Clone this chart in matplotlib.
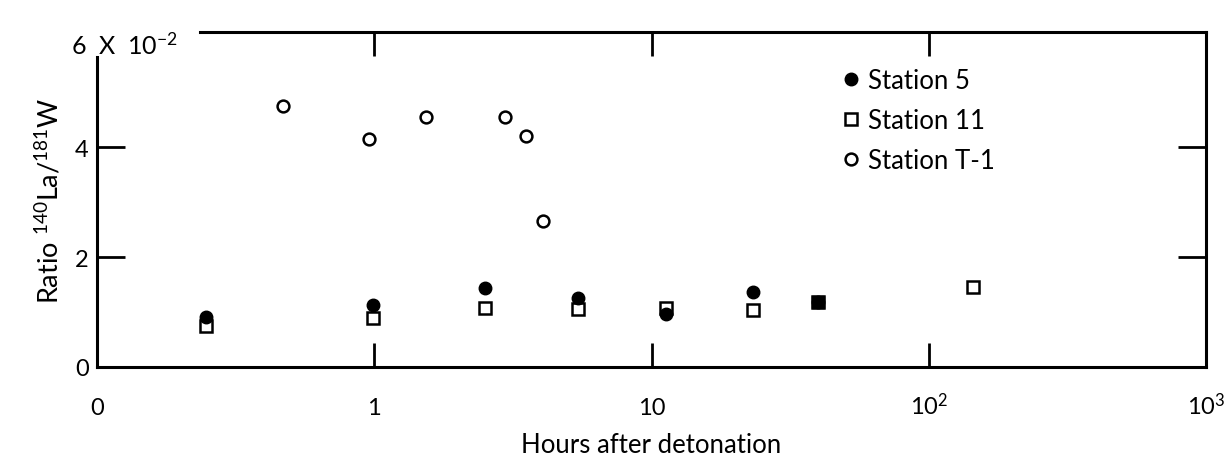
import numpy as np
import matplotlib
matplotlib.use('Agg')
import matplotlib.pyplot as plt

plt.rcParams['font.family'] = ['Lato', 'DejaVu Sans']
plt.rcParams['mathtext.fontset'] = 'custom'
plt.rcParams['mathtext.rm'] = 'Lato'
plt.rcParams['mathtext.it'] = 'Lato'

# Station 5 (filled circles)
t_st5 = [0.248, 0.99, 2.5, 5.45, 11.3, 23.3, 39.7]
r_st5 = [0.91, 1.13, 1.44, 1.25, 0.96, 1.36, 1.18]

# Station 11 (open squares)
t_st11 = [0.248, 0.99, 2.5, 5.45, 11.3, 23.3, 39.7, 144]
r_st11 = [0.75, 0.89, 1.07, 1.05, 1.07, 1.04, 1.18, 1.45]

# Station T-1 (open circles)
t_t1 = [0.47, 0.96, 1.54, 2.97, 3.54, 4.07]
r_t1 = [4.75, 4.15, 4.56, 4.56, 4.20, 2.65]

xticks = [0.1, 1, 10, 100, 1000]
xticklabels = ['0', '1', '10', '$10^2$', '$10^3$']
yticks = [0, 2, 4]
yticklabels = ['0', '2', '4']

fig = plt.figure(figsize=(12.24, 4.56), dpi=100)
ax = fig.add_axes([97/1224, 1 - 368/456, (1206-97)/1224, (368-33)/456])

ax.plot(t_st5, r_st5, 'o', color='black', ms=9, label='Station 5', zorder=3)
ax.plot(t_st11, r_st11, 's', mfc='white', mec='black', mew=1.8, ms=8, label='Station 11', zorder=2)
ax.plot(t_t1, r_t1, 'o', mfc='white', mec='black', mew=1.8, ms=8.5, label='Station T-1', zorder=3)

# the point at ~40 h is shared by Station 5 and 11 and appears as a filled square
ax.plot(t_st11[6], r_st11[6], 's', color='black', ms=8, zorder=4)

ax.set_xscale('log')
ax.set_xlim(0.1, 1000)
ax.set_ylim(0, 6.1)
ax.set_xticks(xticks)
ax.set_xticklabels(xticklabels)
ax.xaxis.set_minor_locator(matplotlib.ticker.NullLocator())
ax.set_yticks(yticks)
ax.set_yticklabels(yticklabels)

ax.tick_params(axis='x', which='major', direction='in', length=17, width=2,
               top=True, labelsize=17, pad=34)
ax.tick_params(axis='y', which='major', direction='in', length=20, width=2,
               right=True, labelsize=17, pad=6)
for lab in ax.get_xticklabels():
    lab.set_va('baseline')
# no tick marks at the "0" end of the x axis
ax.xaxis.get_major_ticks()[0].tick1line.set_visible(False)
ax.xaxis.get_major_ticks()[0].tick2line.set_visible(False)
ax.yaxis.get_major_ticks()[0].tick1line.set_visible(False)
ax.yaxis.get_major_ticks()[0].tick2line.set_visible(False)

for s in ax.spines.values():
    s.set_linewidth(2.2)
ax.spines['left'].set_bounds(0, 5.64)
ax.spines['top'].set_bounds(0.235, 1000)

ax.text(-0.023, 5.88, '6  X  10$^{-2}$', transform=ax.get_yaxis_transform(),
        fontsize=18, ha='left', va='center')

ax.set_xlabel('Hours after detonation', fontsize=18.5, labelpad=10)
ax.set_ylabel(r'Ratio $^{140}$La/$^{181}$W', fontsize=19.5, labelpad=8)

ax.legend(loc='upper left', bbox_to_anchor=(0.657, 0.93), frameon=False,
          fontsize=18.5, handletextpad=0.15, labelspacing=0.58, handlelength=1.0,
          borderpad=0)

fig.savefig('out.png', dpi=100)
